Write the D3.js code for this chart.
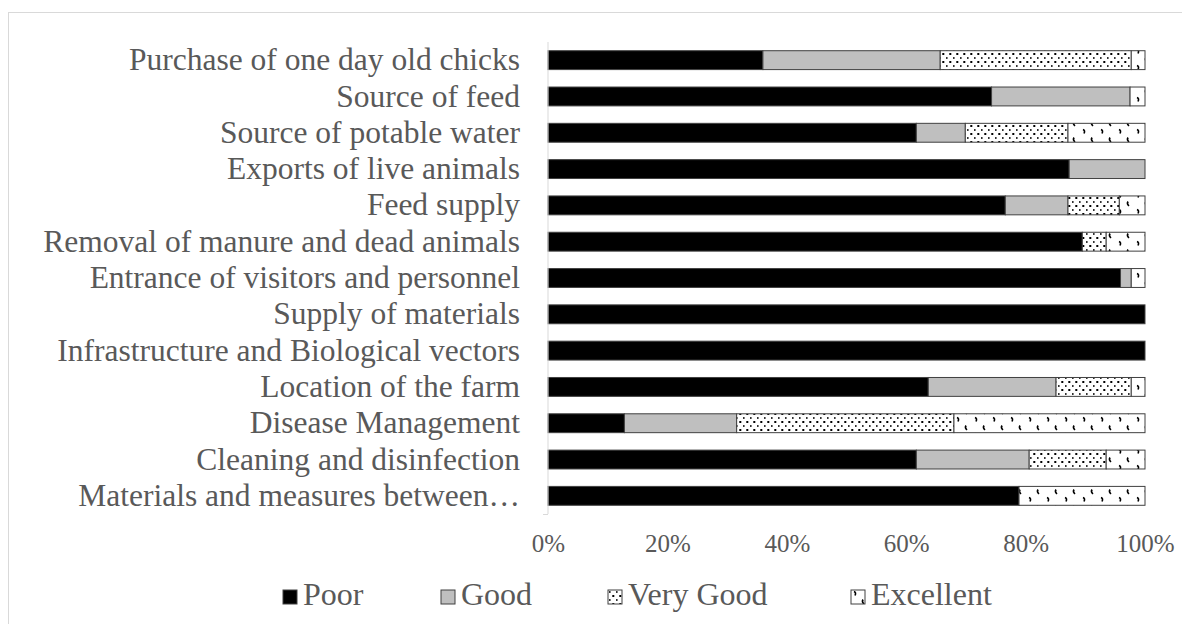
<!DOCTYPE html>
<html>
<head>
<meta charset="utf-8">
<script src="https://cdn.jsdelivr.net/npm/d3@7"></script>
<style>
  html, body { margin: 0; padding: 0; background: #fff; }
  svg { display: block; }
  text { font-family: "Liberation Serif", "Times New Roman", serif; fill: #595959; }
</style>
</head>
<body>
<svg id="chart" width="1182" height="624"></svg>
<script>
// Biosecurity assessment ratings per item (percent of farms)
const categories = [
  "Purchase of one day old chicks",
  "Source of feed",
  "Source of potable water",
  "Exports of live animals ",
  "Feed supply",
  "Removal of manure and dead animals",
  "Entrance of visitors and personnel",
  "Supply of materials",
  "Infrastructure and Biological vectors",
  "Location of the farm",
  "Disease Management",
  "Cleaning and disinfection",
  "Materials and measures between\u2026"
];
const poor      = [36.0, 74.3, 61.7, 87.3, 76.6, 89.5, 95.9, 100, 100, 63.7, 12.8, 61.7, 78.9];
const good      = [29.7, 23.2,  8.2, 12.7, 10.5,  0.0,  1.8,   0,   0, 21.4, 18.8, 18.9,  0.0];
const veryGood  = [32.0,  0.0, 17.2,  0.0,  8.6,  4.0,  0.0,   0,   0, 12.6, 36.4, 12.9,  0.0];
const excellent = [ 2.3,  2.5, 12.9,  0.0,  4.3,  6.5,  2.3,   0,   0,  2.3, 32.0,  6.5, 21.1];
const seriesNames = ["Poor", "Good", "Very Good", "Excellent"];
const tickValues = [0, 20, 40, 60, 80, 100];

const rows = categories.map((c, i) => ({
  category: c,
  "Poor": poor[i], "Good": good[i], "Very Good": veryGood[i], "Excellent": excellent[i]
}));
const stacked = d3.stack().keys(seriesNames)(rows);

const svg = d3.select("#chart");

// outer chart frame
svg.append("rect")
  .attr("x", 8.5).attr("y", 12.5).attr("width", 1200).attr("height", 700)
  .attr("fill", "none").attr("stroke", "#d9d9d9").attr("stroke-width", 1);

// fill patterns
const defs = svg.append("defs");
const dots = defs.append("pattern").attr("id", "pat-dots")
  .attr("patternUnits", "userSpaceOnUse").attr("width", 7).attr("height", 8);
dots.append("rect").attr("width", 7).attr("height", 8).attr("fill", "#fff");
dots.append("rect").attr("x", 1).attr("y", 1.2).attr("width", 1.6).attr("height", 1.6).attr("fill", "#000");
dots.append("rect").attr("x", 4.3).attr("y", 5.0).attr("width", 2.0).attr("height", 2.0).attr("fill", "#000");

const divot = defs.append("pattern").attr("id", "pat-divot")
  .attr("patternUnits", "userSpaceOnUse").attr("width", 18).attr("height", 16);
divot.append("rect").attr("width", 18).attr("height", 16).attr("fill", "#fff");
divot.append("path").attr("d", "M3,1.5 q2.5,1 1,4").attr("fill", "none").attr("stroke", "#000").attr("stroke-width", 1.6);
divot.append("path").attr("d", "M12,9.5 q-1.5,2.5 1,4.5").attr("fill", "none").attr("stroke", "#000").attr("stroke-width", 1.6);

const fills = {
  "Poor": "#000000",
  "Good": "#bfbfbf",
  "Very Good": "url(#pat-dots)",
  "Excellent": "url(#pat-divot)"
};

const x = d3.scaleLinear().domain([0, 100]).range([548, 1145]);
const y = d3.scaleBand().domain(categories).range([42, 514])
  .paddingInner(0.48).paddingOuter(0.24);

// bars
svg.append("g").selectAll("g")
  .data(stacked)
  .join("g")
  .attr("fill", d => fills[d.key])
  .selectAll("rect")
  .data(d => d.filter(s => s[1] - s[0] > 0))
  .join("rect")
  .attr("x", s => x(s[0]))
  .attr("y", s => y(s.data.category))
  .attr("width", s => x(s[1]) - x(s[0]))
  .attr("height", y.bandwidth())
  .attr("stroke", "#404040")
  .attr("stroke-width", 1);

// vertical category axis line
const yAxis = svg.append("g").attr("transform", "translate(548,0)")
  .call(d3.axisLeft(y).tickSize(0).tickPadding(28));
yAxis.select(".domain").attr("stroke", "#d9d9d9").attr("d", "M0,42V514");
yAxis.selectAll("text")
  .style("font-family", "'Liberation Serif', serif")
  .style("font-size", "31.5px")
  .attr("fill", "#595959");
svg.append("line").attr("x1", 543).attr("x2", 548).attr("y1", 514.5).attr("y2", 514.5)
  .attr("stroke", "#d9d9d9");

// percentage axis labels
const xAxis = svg.append("g").attr("transform", "translate(0,520)")
  .call(d3.axisBottom(x).tickValues(tickValues).tickFormat(d => d + "%").tickSize(0).tickPadding(14));
xAxis.select(".domain").remove();
xAxis.selectAll("text")
  .style("font-family", "'Liberation Serif', serif")
  .style("font-size", "25px")
  .attr("fill", "#595959");

// legend
const legendX = [283, 441, 608, 851];
const legend = svg.append("g").selectAll("g")
  .data(seriesNames)
  .join("g")
  .attr("transform", (d, i) => `translate(${legendX[i]},590)`);
legend.append("rect")
  .attr("width", 14).attr("height", 14)
  .attr("fill", d => fills[d])
  .attr("stroke", "#404040").attr("stroke-width", 1);
legend.append("text")
  .attr("x", 20).attr("y", 15)
  .style("font-size", "32px")
  .text(d => d);
</script>
</body>
</html>
